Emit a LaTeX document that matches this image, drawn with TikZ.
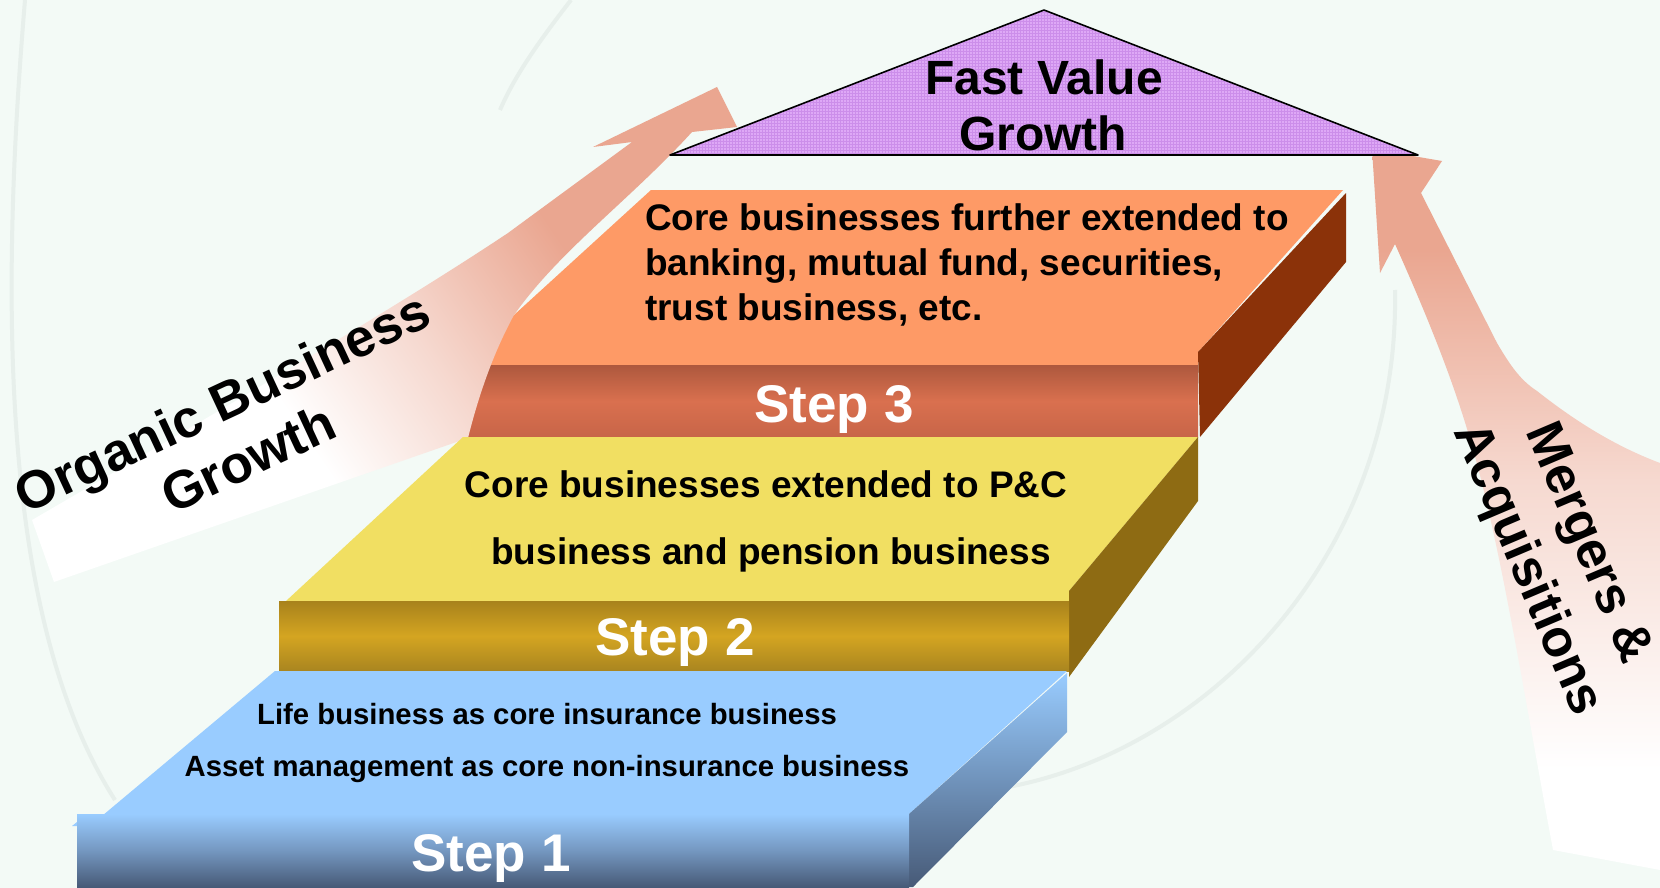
\documentclass[tikz,border=0pt]{standalone}
\usepackage{fontspec}
\setmainfont{Liberation Sans}
\usetikzlibrary{patterns}

\definecolor{bgmint}{HTML}{F3FAF6}
\definecolor{bgline}{HTML}{E7EFEB}
\definecolor{arrowpink}{HTML}{EAA690}
\definecolor{arrowpale}{HTML}{F6D9D0}
\definecolor{roofviolet}{HTML}{DEA8F6}
\definecolor{roofgrid}{HTML}{CC8EEA}
\definecolor{orangetop}{HTML}{FE9A66}
\definecolor{orangeside}{HTML}{8B3209}
\definecolor{rustdark}{HTML}{AD583D}
\definecolor{rustlight}{HTML}{D9704F}
\definecolor{rustlow}{HTML}{C86548}
\definecolor{yellowtop}{HTML}{F1DF62}
\definecolor{goldside}{HTML}{8E6B13}
\definecolor{golddark}{HTML}{A8821C}
\definecolor{goldlight}{HTML}{D4A521}
\definecolor{goldlow}{HTML}{A98520}
\definecolor{bluetop}{HTML}{99CCFF}
\definecolor{bluemid}{HTML}{7497C0}
\definecolor{bluedark}{HTML}{475A77}

\pgfdeclareverticalshading{orgfade}{100bp}{color(0bp)=(white); color(40bp)=(white); color(52bp)=(arrowpale); color(66bp)=(arrowpink); color(100bp)=(arrowpink)}
\pgfdeclareverticalshading{mafade}{100bp}{color(0bp)=(white); color(32bp)=(white); color(52bp)=(arrowpale); color(68bp)=(arrowpink); color(100bp)=(arrowpink)}

\begin{document}
\begin{tikzpicture}
    [x = 1pt, y = -1pt,
     desc/.style = {font = \fontsize{37}{45}\selectfont\bfseries, inner sep = 0pt},
     smalldesc/.style = {font = \fontsize{29.3}{34}\selectfont\bfseries, inner sep = 0pt, anchor = base},
     steplabel/.style = {text = white, font = \fontsize{53}{60}\selectfont\bfseries, inner sep = 0pt, anchor = base},
     rooftxt/.style = {font = \fontsize{48}{57}\selectfont\bfseries, inner sep = 0pt, anchor = base},
     bigtag/.style = {font = \fontsize{53}{62}\selectfont\bfseries, align = center, inner sep = 0pt},
     bgarc/.style = {draw = bgline, line width = 4pt}]
    \useasboundingbox (0,0) rectangle (1660,888);
    \fill[bgmint] (0,0) rectangle (1660,888);
    \draw[bgarc] (25,0) .. controls (0,300) and (0,620) .. (115,800);
    \draw[bgarc] (1395,290) .. controls (1400,560) and (1200,760) .. (990,790);
    \draw[bgarc] (571,0) .. controls (540,40) and (515,75) .. (500,110);

    \shade[shading = mafade] (1372,149) -- (1442,161) -- (1421,193) -- (1497,343)
      .. controls (1510,365) and (1520,380) .. (1537,391)
      .. controls (1580,425) and (1620,448) .. (1660,463) -- (1660,870) -- (1553,850)
      .. controls (1525,700) and (1500,540) .. (1470,439)
      .. controls (1450,370) and (1420,300) .. (1395,244) -- (1380,273) -- cycle;

    \fill[orangetop] (651,190) -- (1343,190) -- (1198,352) -- (1198,365) -- (455,365) -- (514,315) -- cycle;
    \fill[orangeside] (1346,193) -- (1346,262) -- (1200,437) -- (1198,352) -- cycle;
    \shade[top color = rustdark, bottom color = rustlow, middle color = rustlight] (440,365) rectangle (1198,437);

    \shade[shading = orgfade, shading angle = -56] (32,520)
      .. controls (230,405) and (400,305) .. (508,233) -- (632,142) -- (593,147) -- (717,87)
      -- (737,127) -- (692,132) .. controls (630,200) and (560,250) .. (514,315)
      .. controls (495,350) and (480,390) .. (468,438) -- (54,582) -- cycle;

    \fill[yellowtop] (463,437) -- (1198,437) -- (1069,591) -- (1069,601) -- (286,601) -- cycle;
    \fill[goldside] (1198,437) -- (1198,501) -- (1069,677) -- (1069,591) -- cycle;
    \shade[top color = golddark, bottom color = goldlow, middle color = goldlight] (279,601) rectangle (1069,671);

    \fill[bluetop] (275,671) -- (1067,671) -- (909,814) -- (87,814) -- (72,826) -- (90,826) -- cycle;
    \shade[top color = bluetop, bottom color = bluedark] (1067,673) -- (1067,732) -- (913,887) -- (909,887) -- (909,814) -- cycle;
    \shade[top color = bluetop, bottom color = bluedark, middle color = bluemid] (77,814) rectangle (909,887);

    \fill[roofviolet] (670,155) -- (1044,10) -- (1418,155) -- cycle;
    \fill[pattern = grid, pattern color = roofgrid] (670,155) -- (1044,10) -- (1418,155) -- cycle;
    \draw[line width = 1.6pt, line join = round] (670,155) -- (1044,10) -- (1418,155) -- cycle;

    \node[rooftxt] (roof1) at (1044,95) {Fast Value};
    \node[rooftxt] (roof2) at (1043,151) {Growth};
    \foreach \ln [count=\i] in {Core businesses further extended to, {banking, mutual fund, securities,}, {trust business, etc.}}
      \node[desc, anchor = base west] (core\i) at (645,185+45*\i) {\ln};
    \node[desc, anchor = base] (pc1) at (766,497) {Core businesses extended to P\&C};
    \node[desc, anchor = base] (pc2) at (771,564) {business and pension business};
    \node[smalldesc] (life1) at (547,724) {Life business as core insurance business};
    \node[smalldesc] (life2) at (547,776) {Asset management as core non-insurance business};
    \node[steplabel] (step3) at (834,422) {Step 3};
    \node[steplabel] (step2) at (675,655) {Step 2};
    \node[steplabel] (step1) at (491,871) {Step 1};
    \node[bigtag, rotate = 25] (organic) at (235,430) {Organic Business\\Growth};
    \node[bigtag, rotate = -67, font = \fontsize{52}{66}\selectfont\bfseries] (merger) at (1556,557) {Mergers \&\\Acquisitions};
  \end{tikzpicture}
\end{document}
